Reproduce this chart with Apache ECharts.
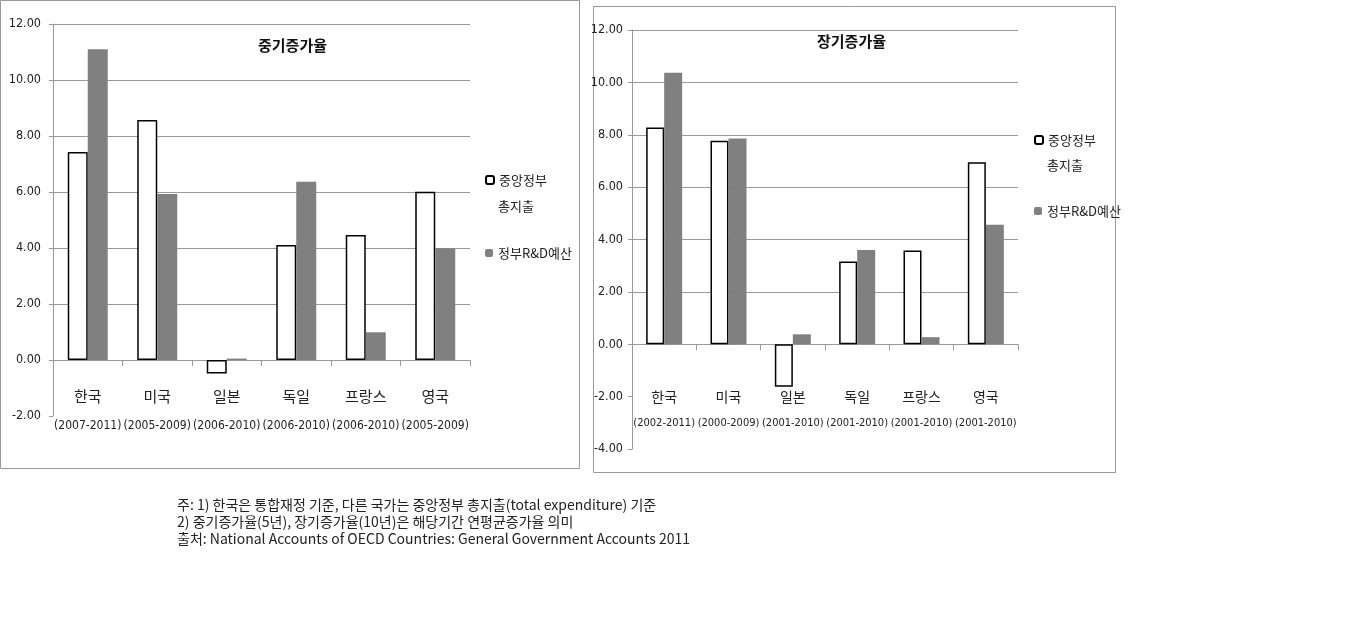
<!DOCTYPE html>
<html>
<head>
<meta charset="utf-8">
<script src="https://cdn.jsdelivr.net/npm/echarts@6/dist/echarts.min.js"></script>
<style>
html,body{margin:0;padding:0;background:#fff;}
#c{width:1358px;height:643px;}
</style>
</head>
<body>
<div id="c"></div>
<script>
// ---- data ----
const countries = ['한국', '미국', '일본', '독일', '프랑스', '영국'];
const periodsMid = ['(2007-2011)', '(2005-2009)', '(2006-2010)', '(2006-2010)', '(2006-2010)', '(2005-2009)'];
const periodsLong = ['(2002-2011)', '(2000-2009)', '(2001-2010)', '(2001-2010)', '(2001-2010)', '(2001-2010)'];
const midExpenditure = [7.43, 8.57, -0.48, 4.11, 4.46, 6.01];
const midRnd = [11.10, 5.93, 0.05, 6.37, 0.99, 3.99];
const longExpenditure = [8.28, 7.77, -1.62, 3.16, 3.58, 6.95];
const longRnd = [10.37, 7.86, 0.38, 3.60, 0.27, 4.56];
const seriesNames = ['중앙정부 총지출', '정부R&D예산'];
const titles = ['중기증가율', '장기증가율'];
const notes = [
  '주: 1) 한국은 통합재정 기준, 다른 국가는 중앙정부 총지출(total expenditure) 기준',
  '2) 중기증가율(5년), 장기증가율(10년)은 해당기간 연평균증가율 의미',
  '출처: National Accounts of OECD Countries: General Government Accounts 2011'
];

const NARROW = '"Liberation Sans Narrow", "DejaVu Sans Condensed", "Liberation Sans", sans-serif';
const KR = '"Noto Sans CJK KR", sans-serif';
const GRID = '#9a9a9a';
const GRAY = '#808080';

function splitColors(n, hidden) {
  const arr = [];
  for (let i = 0; i < n; i++) arr.push(i < hidden ? 'rgba(0,0,0,0)' : GRID);
  return arr;
}

function xAxis(idx, periods, margin, lh, fs, kfs) {
  return {
    type: 'category', gridIndex: idx, data: countries,
    axisLine: { onZero: true, lineStyle: { color: GRID, width: 1 } },
    axisTick: { show: true, length: 6, lineStyle: { color: GRID } },
    axisLabel: {
      interval: 0, hideOverlap: false,
      margin: margin, lineHeight: lh, color: '#222', fontSize: fs, fontFamily: NARROW,
      formatter: function (v, i) { return '{k|' + v + '}\n' + periods[i]; },
      rich: { k: { fontFamily: KR, fontSize: kfs, lineHeight: lh, color: '#222' } }
    }
  };
}
function yAxis(idx, min, hidden, n, margin) {
  return {
    type: 'value', gridIndex: idx, min: min, max: 12, interval: 2,
    axisLine: { show: true, lineStyle: { color: GRID } },
    axisTick: { show: true, length: 4, lineStyle: { color: GRID } },
    axisLabel: { margin: margin, color: '#222', fontSize: 12.5, fontFamily: NARROW,
      formatter: function (v) { return v.toFixed(2); } },
    splitLine: { show: true, lineStyle: { color: splitColors(n, hidden), width: 1 } }
  };
}
function whiteBar(idx, data, w) {
  return { name: seriesNames[0], type: 'bar', xAxisIndex: idx, yAxisIndex: idx, data: data,
    barWidth: w, barGap: '0%',
    itemStyle: { color: '#fff', borderColor: '#000', borderWidth: 1.5 } };
}
function grayBar(idx, data, w) {
  return { name: seriesNames[1], type: 'bar', xAxisIndex: idx, yAxisIndex: idx, data: data,
    barWidth: w, barGap: '0%', itemStyle: { color: GRAY } };
}
function legend(name, left, top, label) {
  return { data: [name], left: left, top: top, padding: 0, itemWidth: 8, itemHeight: 8,
    selectedMode: false,
    formatter: function () { return label; },
    textStyle: { fontFamily: KR, fontSize: 13, lineHeight: 16, color: '#222' } };
}

const chart = echarts.init(document.getElementById('c'), null, { renderer: 'canvas' });
chart.setOption({
  backgroundColor: '#fff',
  animation: false,
  title: [
    { text: titles[0], left: 258, top: 38, padding: 0, textStyle: { fontFamily: KR, fontSize: 15, fontWeight: 'bold', color: '#111' } },
    { text: titles[1], left: 817, top: 34, padding: 0, textStyle: { fontFamily: KR, fontSize: 15, fontWeight: 'bold', color: '#111' } }
  ],
  legend: [
    legend(seriesNames[0], 485, 172, '중앙정부'),
    legend(seriesNames[1], 485, 245, '정부R&D예산'),
    legend(seriesNames[0], 1034, 132, '중앙정부'),
    legend(seriesNames[1], 1034, 203, '정부R&D예산')
  ],
  grid: [
    { left: 53, top: 24, width: 417, height: 392 },
    { left: 632, top: 30, width: 386, height: 419 }
  ],
  xAxis: [xAxis(0, periodsMid, -34, 29, 12, 15), xAxis(1, periodsLong, -65, 26, 11, 14)],
  yAxis: [yAxis(0, -2, 2, 8, 12), yAxis(1, -4, 3, 9, 9)],
  series: [
    whiteBar(0, midExpenditure, 20), grayBar(0, midRnd, 20),
    whiteBar(1, longExpenditure, 18), grayBar(1, longRnd, 18)
  ],
  graphic: [
    { type: 'rect', shape: { x: 0.5, y: 0.5, width: 579, height: 468 }, style: { fill: 'none', stroke: '#999', lineWidth: 1 }, silent: true },
    { type: 'rect', shape: { x: 593.5, y: 6.5, width: 522, height: 466 }, style: { fill: 'none', stroke: '#999', lineWidth: 1 }, silent: true },
    { type: 'text', left: 498, top: 200, style: { text: '총지출', font: '13px "Noto Sans CJK KR", sans-serif', fill: '#222' } },
    { type: 'text', left: 1047, top: 159, style: { text: '총지출', font: '13px "Noto Sans CJK KR", sans-serif', fill: '#222' } },
    { type: 'text', left: 177, top: 496, style: { text: notes.join('\n'), font: '14px "Noto Sans CJK KR", sans-serif', lineHeight: 17, fill: '#222' } }
  ]
});
</script>
</body>
</html>
